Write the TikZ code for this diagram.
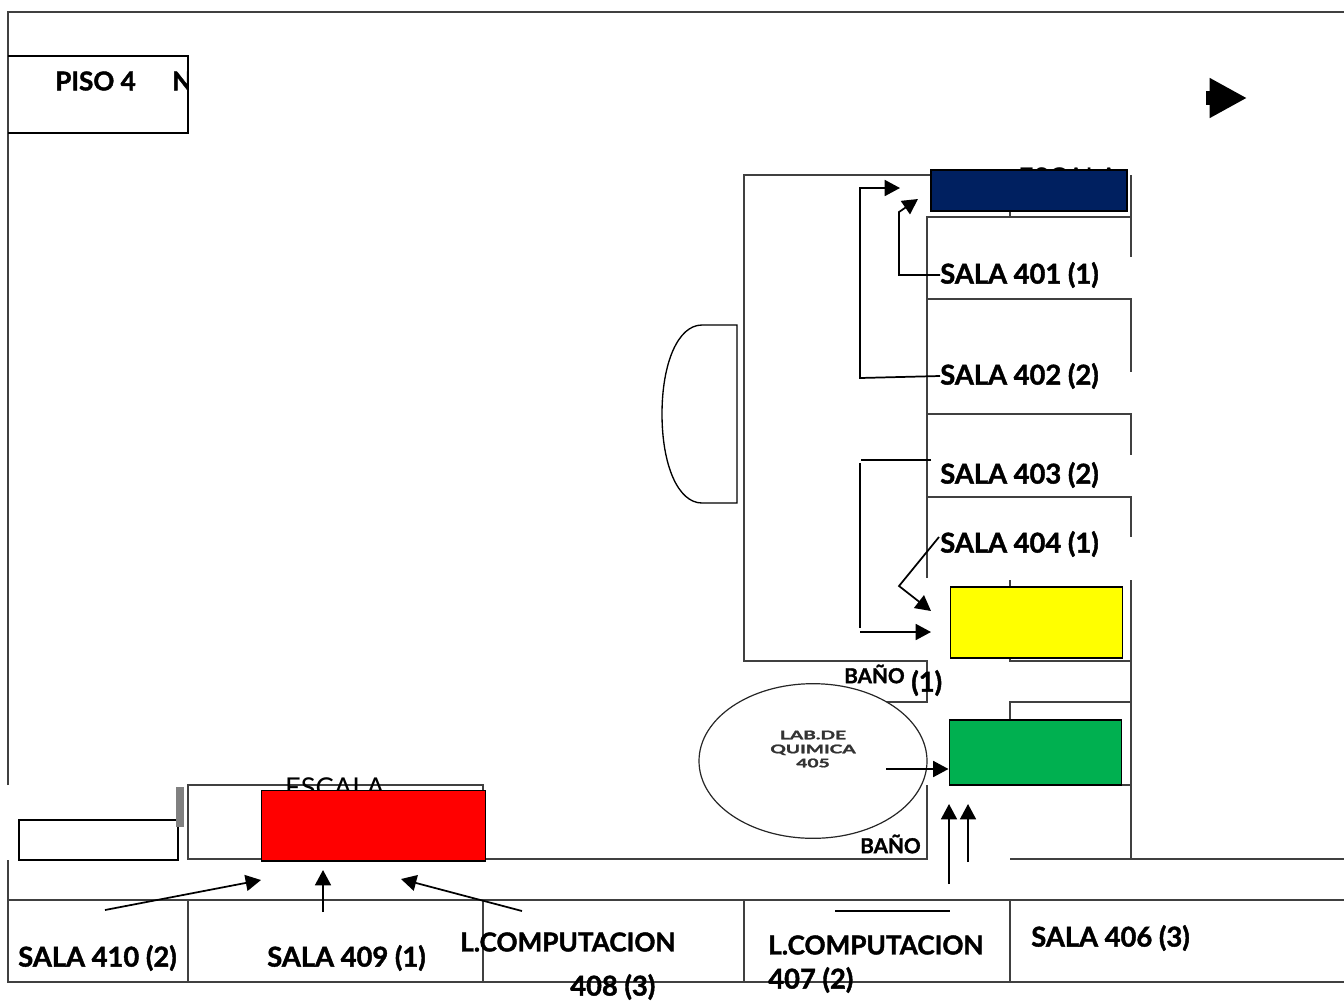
\documentclass[tikz,border=0pt]{standalone}
\usepackage{fontspec}
\setmainfont{Lato}[BoldFeatures={FakeBold=1.5}]
\usetikzlibrary{arrows.meta,positioning,shapes.geometric}
\definecolor{navyroom}{RGB}{0,32,96}
\definecolor{greenroom}{RGB}{0,176,80}
\definecolor{yellowroom}{RGB}{255,255,0}
\definecolor{redroom}{RGB}{255,0,0}
\begin{document}
\begin{tikzpicture}[x=0.75pt,y=-0.75pt,>={Triangle[length=11.5pt,width=12pt]}]
  \tikzstyle{wall}=[draw=black!75,line width=0.8pt]
  \tikzstyle{room}=[draw=black,line width=1.4pt,inner sep=0pt,anchor=north west]
  \tikzstyle{sala}=[font=\bfseries\fontsize{20.5}{22}\selectfont,inner sep=0pt,anchor=west]
  \tikzstyle{compu}=[font=\bfseries\fontsize{19.6}{22}\selectfont,inner sep=0pt,anchor=west]
  \tikzstyle{bano}=[font=\bfseries\fontsize{15.5}{17}\selectfont,inner sep=0pt,anchor=west]
  \tikzstyle{escala}=[font=\fontsize{20.5}{22}\selectfont,inner sep=0pt]
  \tikzstyle{piso}=[font=\bfseries\fontsize{19.5}{22}\selectfont,inner sep=0pt,anchor=west]
  \tikzstyle{flecha}=[->,line width=1.3pt]
  \tikzstyle{linea}=[line width=1.3pt]
  \useasboundingbox (0,0) rectangle (1344,1000);

    % outer frame
    \draw[wall] (8,785) -- (8,12) -- (1344,12);
    \draw[wall] (8,860) -- (8,982) -- (1344,982);
    \draw[wall] (8,900) -- (1344,900);
    \draw[wall] (188,900) -- (188,982);
    \draw[wall] (483,900) -- (483,982);
    \draw[wall] (744,900) -- (744,982);
    \draw[wall] (1010,900) -- (1010,982);
    \draw[wall] (485,859) -- (927,859) -- (927,785);
    \draw[wall] (1010,859) -- (1344,859);

    % block of rooms, east side
    \draw[wall] (930,175) -- (744,175) -- (744,661) -- (927,661) -- (927,702) -- (835,702);
    \draw[wall] (927,578) -- (927,217) -- (1131,217) -- (1131,257);
    \draw[wall] (1131,175) -- (1131,217);
    \draw[wall] (927,299) -- (1131,299) -- (1131,372);
    \draw[wall] (927,414) -- (1131,414) -- (1131,455);
    \draw[wall] (927,497) -- (1131,497) -- (1131,537);
    \draw[wall] (1131,580) -- (1131,859);
    \draw[wall] (1010,212) -- (1010,217);
    \draw[wall] (1010,580) -- (1010,661) -- (1131,661);
    \draw[wall] (1010,720) -- (1010,702) -- (1131,702);
    \draw[wall] (1010,785) -- (1131,785);

    % stairs room and small room, west side
    \draw[wall] (483,790) -- (483,785) -- (188,785) -- (188,859) -- (262,859);
    \draw[line width=1.2pt] (178,820) -- (19,820) -- (19,860) -- (178,860) -- (178,820);
    \node[fill=black!50,minimum width=6pt,minimum height=30pt,inner sep=0pt,anchor=north west] (escalera) at (176,787) {};

    % bulge
    \draw[line width=1pt] (737,325) -- (737,503) -- (702,503)
      .. controls (678,503) and (662,465) .. (662,414)
      .. controls (662,363) and (678,325) .. (702,325) -- cycle;

    % texts under the coloured rooms
    \node[escala] (escala) at (335,788) {ESCALA};
    \node[escala] (escala2) at (1068,178) {ESCALA};

    % coloured rooms
    \node[room,fill=navyroom,minimum width=147pt,minimum height=31pt] (azul) at (930,169) {};
    \node[room,fill=yellowroom,minimum width=129pt,minimum height=53pt] (amarillo) at (949.5,586) {};
    \node[room,fill=greenroom,minimum width=129pt,minimum height=49pt] (verde) at (948.5,719) {};
    \node[room,fill=redroom,minimum width=168pt,minimum height=53pt] (rojo) at (260.5,789.5) {};

    % lab
    \node[draw=black!85,line width=0.9pt,fill=white,ellipse,minimum width=171pt,minimum height=116pt,inner sep=0pt] (lab) at (813,761) {};
    \node[font=\bfseries\fontsize{9}{10.5}\selectfont,align=center,text=black!80,xscale=1.6,transform shape] (labtxt) at (813,749) {LAB.DE\\QUIMICA\\405};

    % labels
    \node[sala] (s401) at (940,275) {SALA 401 (1)};
    \node[sala] (s402) at (940,376) {SALA 402 (2)};
    \node[sala] (s403) at (940,475) {SALA 403 (2)};
    \node[sala] (s404) at (940,544) {SALA 404 (1)};
    \node[bano] (bano1) at (844,674) {BAÑO};
    \node[sala] (uno) at (911,683) {(1)};
    \node[bano] (bano2) at (860,844) {BAÑO};
    \node[sala] (s410) at (18,958) {SALA 410 (2)};
    \node[sala] (s409) at (267,958) {SALA 409 (1)};
    \node[compu] (l408) at (460,942) {L.COMPUTACION};
    \node[sala] (n408) at (570,987) {408 (3)};
    \node[compu] (l407) at (768,945) {L.COMPUTACION};
    \node[sala] (n407) at (768,980) {407 (2)};
    \node[sala] (s406) at (1031,938) {SALA 406 (3)};
    \coordinate (c404) at (939,537);

    % arrows
    \draw[flecha] (s401.west) -| (899,212) -- (918,199);
    \draw[flecha] (s402.west) -- (860,378) |- (900,188);
    \draw[linea] (931,460) -- (861,460);
    \draw[linea] (860,463) -- (860,628);
    \draw[flecha] (860,632) -- (931,632);
    \draw[flecha] (c404) -- (899,586) -- (931,611);
    \draw[flecha] (886,769) -- (verde.west |- 0,769);
    \draw[flecha] (949,884) -- (949,804);
    \draw[flecha] (968,862) -- (968,804);
    \draw[linea] (835,911) -- (950,911);
    \draw[flecha] (105,910) -- (261,880);
    \draw[flecha] (323,912) -- (323,870);
    \draw[flecha] (522,911) -- (401,879);

    % north arrow
    \draw[line width=11pt,-{Triangle[length=28pt,width=28pt]}] (1206,98) -- (1247,98);

    % floor box
    \draw[line width=1.5pt] (8,56) -- (188,56) -- (188,133) -- (8,133);
    \node[piso] (piso) at (55,81) {PISO 4};
    \begin{scope}
      \clip (160,60) rectangle (188,100);
      \node[piso] (norte) at (172,81) {N};
    \end{scope}
\end{tikzpicture}
\end{document}
